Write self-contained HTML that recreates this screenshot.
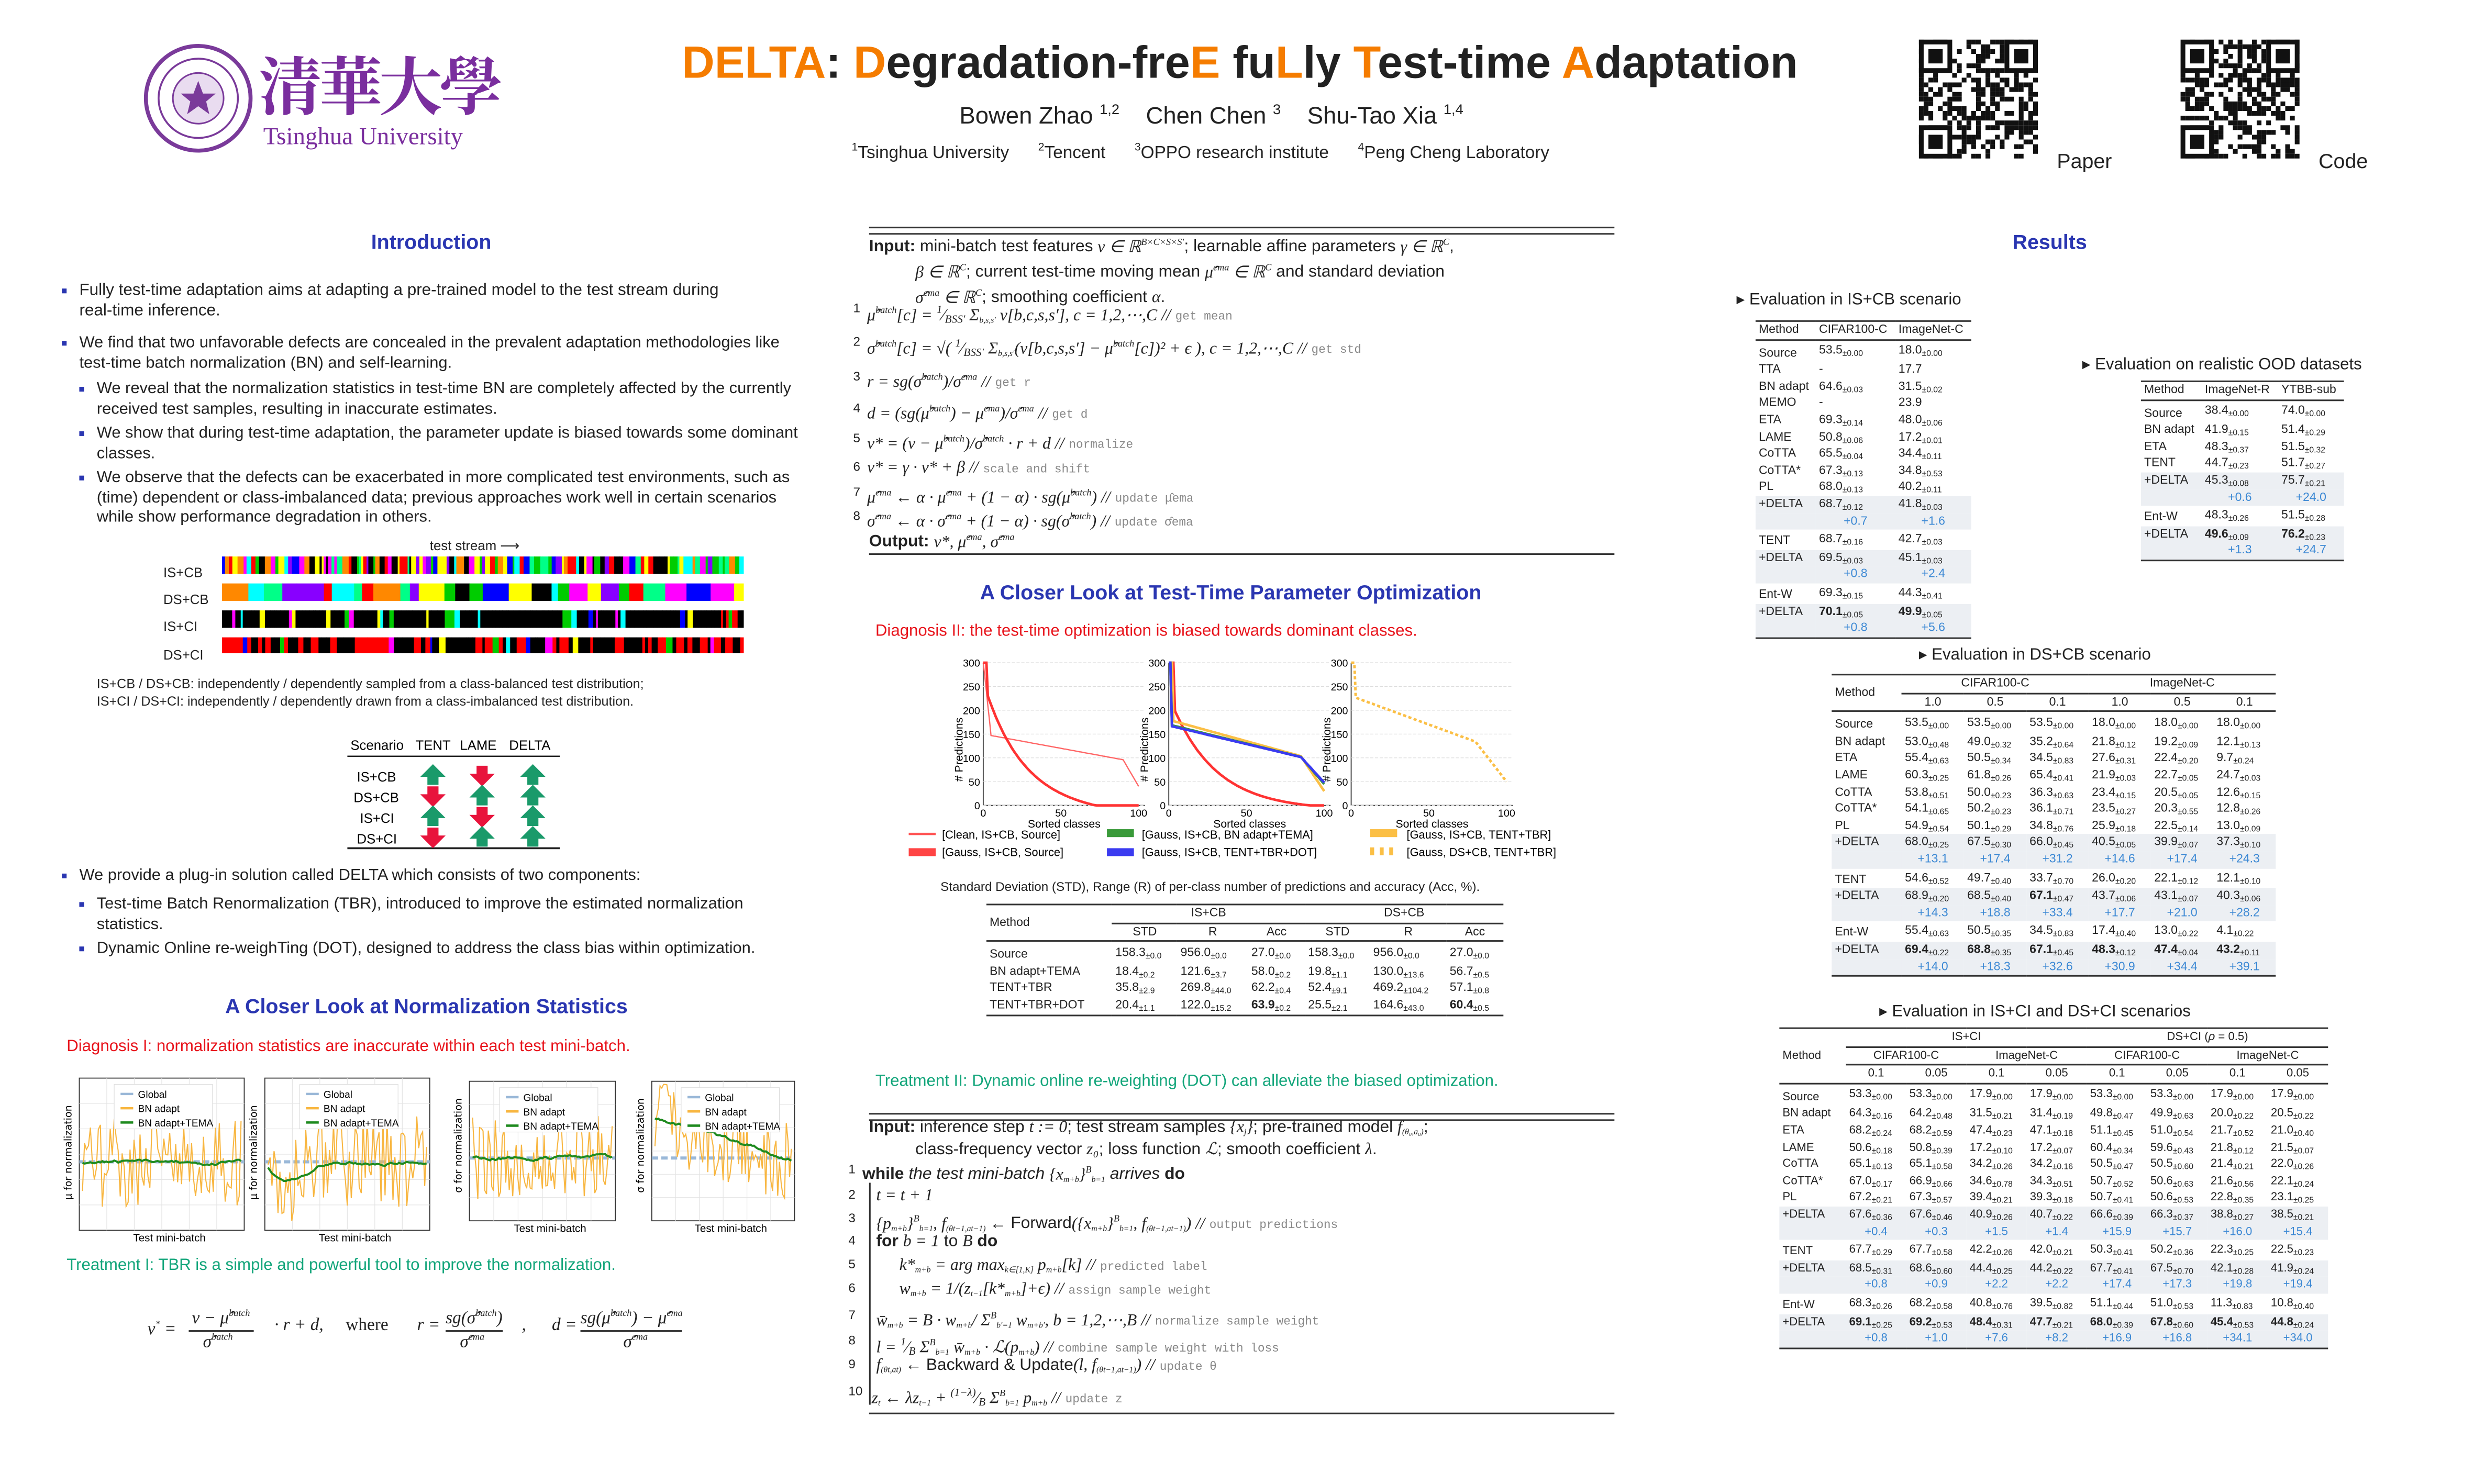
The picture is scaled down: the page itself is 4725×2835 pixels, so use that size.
<!DOCTYPE html>
<html><head><meta charset="utf-8">
<style>
html,body{margin:0;padding:0;background:#fff;}
body{width:4725px;height:2835px;overflow:hidden;}
#p{position:absolute;left:0;top:0;width:1560px;height:936px;transform:scale(3.0288);transform-origin:0 0;font-family:"Liberation Sans","DejaVu Sans",sans-serif;color:#222;}
.a{position:absolute;white-space:nowrap;}
.h{color:#2a36b1;font-weight:bold;font-size:13px;}
.o{color:#f57c00;}
.b{font-size:10.2px;line-height:12.5px;white-space:normal;}
.blt{position:absolute;left:-11px;top:4px;width:3px;height:3px;background:#2a36b1;}
table{border-collapse:collapse;font-size:7.6px;position:absolute;}
td,th{padding:0 2px;font-weight:normal;text-align:left;line-height:10.6px;white-space:nowrap;}
sub{font-size:5.2px;vertical-align:-1.5px;line-height:0;}
.g td{background:#eceff3;}
.up td{color:#3b88d4;text-align:center;}
.tt{border-top:1.2px solid #333;}
.tb{border-bottom:1.2px solid #333;}
.m{font-family:"Liberation Serif",serif;font-style:italic;}
.c{font-family:"Liberation Mono",monospace;color:#888;font-size:7.5px;font-style:normal;}
.al{font-size:10.5px;}
.ln{position:absolute;font-size:8px;}
</style></head><body><div id="p">

<!-- header -->
<svg class="a" style="left:90px;top:27px" width="70" height="70"><circle cx="35" cy="35" r="33" fill="none" stroke="#7a3a9a" stroke-width="2.5"/><circle cx="35" cy="35" r="25" fill="none" stroke="#7a3a9a" stroke-width="1.2"/><circle cx="35" cy="35" r="16" fill="#e9dcf0" stroke="#7a3a9a"/><polygon points="35,24 38,32 46,32 40,37 42,45 35,40 28,45 30,37 24,32 32,32" fill="#7a3a9a"/></svg>
<div class="a" style="left:163px;top:24px;font-size:40px;color:#7a2e9e;font-family:'Noto Serif CJK SC','Noto Sans CJK SC',serif;letter-spacing:-2px;font-weight:bold">清華大學</div>
<div class="a" style="left:166px;top:78px;font-size:15.5px;color:#7a2e9e;font-family:'Liberation Serif',serif">Tsinghua University</div>
<div class="a" style="left:430px;top:24px;font-size:28.5px;font-weight:bold;color:#222"><span class="o">DELTA</span>: <span class="o">D</span>egradation-fre<span class="o">E</span> fu<span class="o">L</span>ly <span class="o">T</span>est-time <span class="o">A</span>daptation</div>
<div class="a" style="left:605px;top:64px;font-size:15px">Bowen Zhao <sup style="font-size:9px">1,2</sup>&nbsp;&nbsp;&nbsp; Chen Chen <sup style="font-size:9px">3</sup>&nbsp;&nbsp;&nbsp; Shu-Tao Xia <sup style="font-size:9px">1,4</sup></div>
<div class="a" style="left:537px;top:90px;font-size:11px"><sup style="font-size:7px">1</sup>Tsinghua University&nbsp;&nbsp;&nbsp;&nbsp;&nbsp; <sup style="font-size:7px">2</sup>Tencent&nbsp;&nbsp;&nbsp;&nbsp;&nbsp; <sup style="font-size:7px">3</sup>OPPO research institute&nbsp;&nbsp;&nbsp;&nbsp;&nbsp; <sup style="font-size:7px">4</sup>Peng Cheng Laboratory</div>
<svg id="qr1" class="a" style="left:1209px;top:24px" width="78" height="76"></svg>
<svg id="qr2" class="a" style="left:1374px;top:24px" width="78" height="76"></svg>
<div class="a" style="left:1297px;top:94px;font-size:13px">Paper</div>
<div class="a" style="left:1462px;top:94px;font-size:13px">Code</div>

<!-- LEFT -->
<div class="a h" style="left:234px;top:145px">Introduction</div>
<div class="a b" style="left:50px;top:178px;width:425px;font-size:10.4px"><span class="blt"></span>Fully test-time adaptation aims at adapting a pre-trained model to the test stream during real-time inference.</div>
<div class="a b" style="left:50px;top:211px;width:450px"><span class="blt"></span>We find that two unfavorable defects are concealed in the prevalent adaptation methodologies like test-time batch normalization (BN) and self-learning.</div>
<div class="a b" style="left:61px;top:240px;width:445px"><span class="blt"></span>We reveal that the normalization statistics in test-time BN are completely affected by the currently received test samples, resulting in inaccurate estimates.</div>
<div class="a b" style="left:61px;top:268px;width:445px"><span class="blt"></span>We show that during test-time adaptation, the parameter update is biased towards some dominant classes.</div>
<div class="a b" style="left:61px;top:296px;width:445px"><span class="blt"></span>We observe that the defects can be exacerbated in more complicated test environments, such as (time) dependent or class-imbalanced data; previous approaches work well in certain scenarios while show performance degradation in others.</div>
<div class="a" style="left:271px;top:339px;font-size:8.5px">test stream ⟶</div>
<div class="a" style="left:103px;top:353px;font-size:8.5px;line-height:17.2px">IS+CB<br>DS+CB<br>IS+CI<br>DS+CI</div>
<svg id="bars" class="a" style="left:140px;top:350px" width="329" height="62"></svg>
<div class="a" style="left:61px;top:426px;font-size:8.3px;line-height:11px">IS+CB / DS+CB: independently / dependently sampled from a class-balanced test distribution;<br>IS+CI / DS+CI: independently / dependently drawn from a class-imbalanced test distribution.</div>
<svg class="a" style="left:219px;top:457px" width="134" height="80" font-size="8.5" font-family="Liberation Sans">
<text x="2" y="16">Scenario</text><text x="43" y="16">TENT</text><text x="71" y="16">LAME</text><text x="102" y="16">DELTA</text>
<line x1="0" y1="20" x2="134" y2="20" stroke="#222" stroke-width="0.8"/><line x1="0" y1="78" x2="134" y2="78" stroke="#222" stroke-width="1.2"/>
<text x="6" y="36">IS+CB</text><text x="4" y="49">DS+CB</text><text x="8" y="62">IS+CI</text><text x="6" y="75">DS+CI</text>
<g id="arr"></g></svg>
<div class="a b" style="left:50px;top:547px;width:460px"><span class="blt"></span>We provide a plug-in solution called DELTA which consists of two components:</div>
<div class="a b" style="left:61px;top:565px;width:450px"><span class="blt"></span>Test-time Batch Renormalization (TBR), introduced to improve the estimated normalization statistics.</div>
<div class="a b" style="left:61px;top:593px;width:450px"><span class="blt"></span>Dynamic Online re-weighTing (DOT), designed to address the class bias within optimization.</div>
<div class="a h" style="left:142px;top:627px">A Closer Look at Normalization Statistics</div>
<div class="a" style="left:42px;top:655px;font-size:10.3px;color:#e8141c">Diagnosis I: normalization statistics are inaccurate within each test mini-batch.</div>
<svg id="np" class="a" style="left:40px;top:674px" width="470" height="110"></svg>
<div class="a" style="left:42px;top:793px;font-size:10.3px;color:#12a57a">Treatment I: TBR is a simple and powerful tool to improve the normalization.</div>
<div class="a m" style="left:93px;top:820px;font-size:11px;line-height:14px">
<span style="position:absolute;left:0;top:9px">v<sup style="font-size:6px">*</sup> =</span>
<span style="position:absolute;left:26px;top:2px;border-bottom:0.8px solid #222;padding:0 2px">v − μ̂<sup style="font-size:6px">batch</sup></span>
<span style="position:absolute;left:35px;top:17px">σ̂<sup style="font-size:6px">batch</sup></span>
<span style="position:absolute;left:80px;top:9px">· r + d,</span>
<span style="position:absolute;left:125px;top:9px;font-style:normal">where</span>
<span style="position:absolute;left:170px;top:9px">r =</span>
<span style="position:absolute;left:188px;top:2px;border-bottom:0.8px solid #222">sg(σ̂<sup style="font-size:6px">batch</sup>)</span>
<span style="position:absolute;left:197px;top:17px">σ̂<sup style="font-size:6px">ema</sup></span>
<span style="position:absolute;left:236px;top:9px">,</span>
<span style="position:absolute;left:255px;top:9px">d =</span>
<span style="position:absolute;left:273px;top:2px;border-bottom:0.8px solid #222">sg(μ̂<sup style="font-size:6px">batch</sup>) − μ̂<sup style="font-size:6px">ema</sup></span>
<span style="position:absolute;left:300px;top:17px">σ̂<sup style="font-size:6px">ema</sup></span>
</div>

<!-- MIDDLE -->
<div class="a" style="left:548px;top:143px;width:470px;border-top:1px solid #333;height:3px;border-bottom:0.8px solid #333"></div>
<div class="a al" style="left:548px;top:147px;line-height:13.7px"><b>Input:</b> mini-batch test features <span class="m">v ∈ ℝ<sup style="font-size:6px">B×C×S×S′</sup></span>; learnable affine parameters <span class="m">γ ∈ ℝ<sup style="font-size:6px">C</sup></span>,<br>&nbsp;&nbsp;&nbsp;&nbsp;&nbsp;&nbsp;&nbsp;&nbsp;&nbsp;&nbsp;<span class="m">β ∈ ℝ<sup style="font-size:6px">C</sup></span>; current test-time moving mean <span class="m">μ̂<sup style="font-size:6px">ema</sup> ∈ ℝ<sup style="font-size:6px">C</sup></span> and standard deviation<br>&nbsp;&nbsp;&nbsp;&nbsp;&nbsp;&nbsp;&nbsp;&nbsp;&nbsp;&nbsp;<span class="m">σ̂<sup style="font-size:6px">ema</sup> ∈ ℝ<sup style="font-size:6px">C</sup></span>; smoothing coefficient <span class="m">α</span>.</div>
<div class="a al" style="left:538px;top:190px;line-height:10px">
<div style="position:absolute;top:0"><span class="ln">1</span>&nbsp;&nbsp;&nbsp;<span class="m">μ̂<sup style="font-size:6px">batch</sup>[c] = <sup style="font-size:7px">1</sup>⁄<sub style="font-size:7px">BSS′</sub> Σ<sub>b,s,s′</sub> v[b,c,s,s′], c = 1,2,⋯,C //</span> <span class="c">get mean</span></div>
<div style="position:absolute;top:21px"><span class="ln">2</span>&nbsp;&nbsp;&nbsp;<span class="m">σ̂<sup style="font-size:6px">batch</sup>[c] = √( <sup style="font-size:7px">1</sup>⁄<sub style="font-size:7px">BSS′</sub> Σ<sub>b,s,s′</sub>(v[b,c,s,s′] − μ̂<sup style="font-size:6px">batch</sup>[c])² + ϵ ), c = 1,2,⋯,C //</span> <span class="c">get std</span></div>
<div style="position:absolute;top:43px"><span class="ln">3</span>&nbsp;&nbsp;&nbsp;<span class="m">r = sg(σ̂<sup style="font-size:6px">batch</sup>)/σ̂<sup style="font-size:6px">ema</sup> //</span> <span class="c">get r</span></div>
<div style="position:absolute;top:63px"><span class="ln">4</span>&nbsp;&nbsp;&nbsp;<span class="m">d = (sg(μ̂<sup style="font-size:6px">batch</sup>) − μ̂<sup style="font-size:6px">ema</sup>)/σ̂<sup style="font-size:6px">ema</sup> //</span> <span class="c">get d</span></div>
<div style="position:absolute;top:82px"><span class="ln">5</span>&nbsp;&nbsp;&nbsp;<span class="m">v* = (v − μ̂<sup style="font-size:6px">batch</sup>)/σ̂<sup style="font-size:6px">batch</sup> · r + d //</span> <span class="c">normalize</span></div>
<div style="position:absolute;top:100px"><span class="ln">6</span>&nbsp;&nbsp;&nbsp;<span class="m">v* = γ · v* + β //</span> <span class="c">scale and shift</span></div>
<div style="position:absolute;top:116px"><span class="ln">7</span>&nbsp;&nbsp;&nbsp;<span class="m">μ̂<sup style="font-size:6px">ema</sup> ← α · μ̂<sup style="font-size:6px">ema</sup> + (1 − α) · sg(μ̂<sup style="font-size:6px">batch</sup>) //</span> <span class="c">update μ̂ema</span></div>
<div style="position:absolute;top:131px"><span class="ln">8</span>&nbsp;&nbsp;&nbsp;<span class="m">σ̂<sup style="font-size:6px">ema</sup> ← α · σ̂<sup style="font-size:6px">ema</sup> + (1 − α) · sg(σ̂<sup style="font-size:6px">batch</sup>) //</span> <span class="c">update σ̂ema</span></div>
<div style="position:absolute;top:144px;left:10px"><b>Output:</b> <span class="m">v*, μ̂<sup style="font-size:6px">ema</sup>, σ̂<sup style="font-size:6px">ema</sup></span></div>
</div>
<div class="a" style="left:548px;top:349px;width:470px;border-top:0.8px solid #333"></div>
<div class="a h" style="left:618px;top:366px">A Closer Look at Test-Time Parameter Optimization</div>
<div class="a" style="left:552px;top:393px;font-size:10.3px;color:#e8141c">Diagnosis II: the test-time optimization is biased towards dominant classes.</div>
<svg id="pp" class="a" style="left:600px;top:410px" width="365" height="112" font-family="Liberation Sans"></svg>
<svg class="a" style="left:570px;top:521px" width="440" height="24" font-size="7.2" font-family="Liberation Sans">
<line x1="3" y1="5" x2="20" y2="5" stroke="#f55" stroke-width="1.5"/><text x="24" y="8">[Clean, IS+CB, Source]</text>
<rect x="3" y="14" width="17" height="5" fill="#f44"/><text x="24" y="19">[Gauss, IS+CB, Source]</text>
<rect x="128" y="2" width="17" height="5" fill="#3a9a3a"/><text x="150" y="8">[Gauss, IS+CB, BN adapt+TEMA]</text>
<rect x="128" y="14" width="17" height="5" fill="#3b3bf0"/><text x="150" y="19">[Gauss, IS+CB, TENT+TBR+DOT]</text>
<rect x="294" y="2" width="17" height="5" fill="#fbbf45"/><text x="317" y="8">[Gauss, IS+CB, TENT+TBR]</text>
<line x1="294" y1="16" x2="311" y2="16" stroke="#fbbf45" stroke-width="5" stroke-dasharray="2.5,3.5"/><text x="317" y="19">[Gauss, DS+CB, TENT+TBR]</text></svg>
<div class="a" style="left:593px;top:555px;font-size:8px">Standard Deviation (STD), Range (R) of per-class number of predictions and accuracy (Acc, %).</div>
<table style="left:622px;top:570px;width:326px" class="tt">
<tr><td rowspan="2" style="vertical-align:middle">Method</td><td colspan="3" style="text-align:center;border-bottom:0.6px solid #333">IS+CB</td><td colspan="3" style="text-align:center;border-bottom:0.6px solid #333">DS+CB</td></tr>
<tr class="tb"><td style="text-align:center">STD</td><td style="text-align:center">R</td><td style="text-align:center">Acc</td><td style="text-align:center">STD</td><td style="text-align:center">R</td><td style="text-align:center">Acc</td></tr>
<tr><td style="padding-top:3px">Source</td><td>158.3<sub>±0.0</sub></td><td>956.0<sub>±0.0</sub></td><td>27.0<sub>±0.0</sub></td><td>158.3<sub>±0.0</sub></td><td>956.0<sub>±0.0</sub></td><td>27.0<sub>±0.0</sub></td></tr>
<tr><td>BN adapt+TEMA</td><td>18.4<sub>±0.2</sub></td><td>121.6<sub>±3.7</sub></td><td>58.0<sub>±0.2</sub></td><td>19.8<sub>±1.1</sub></td><td>130.0<sub>±13.6</sub></td><td>56.7<sub>±0.5</sub></td></tr>
<tr><td>TENT+TBR</td><td>35.8<sub>±2.9</sub></td><td>269.8<sub>±44.0</sub></td><td>62.2<sub>±0.4</sub></td><td>52.4<sub>±9.1</sub></td><td>469.2<sub>±104.2</sub></td><td>57.1<sub>±0.8</sub></td></tr>
<tr class="tb"><td>TENT+TBR+DOT</td><td>20.4<sub>±1.1</sub></td><td>122.0<sub>±15.2</sub></td><td><b>63.9</b><sub>±0.2</sub></td><td>25.5<sub>±2.1</sub></td><td>164.6<sub>±43.0</sub></td><td><b>60.4</b><sub>±0.5</sub></td></tr>
</table>
<div class="a" style="left:552px;top:677px;font-size:10.3px;color:#12a57a">Treatment II: Dynamic online re-weighting (DOT) can alleviate the biased optimization.</div>
<div class="a" style="left:548px;top:702px;width:470px;border-top:1px solid #333;height:3px;border-bottom:0.8px solid #333"></div>
<div class="a al" style="left:548px;top:705px;line-height:13.5px"><b>Input:</b> inference step <span class="m">t := 0</span>; test stream samples <span class="m">{x<sub>j</sub>}</span>; pre-trained model <span class="m">f<sub>(θ₀,a₀)</sub></span>;<br>&nbsp;&nbsp;&nbsp;&nbsp;&nbsp;&nbsp;&nbsp;&nbsp;&nbsp;&nbsp;class-frequency vector <span class="m">z₀</span>; loss function <span class="m">ℒ</span>; smooth coefficient <span class="m">λ</span>.</div>
<div class="a al" style="left:535px;top:733px;line-height:10px">
<div style="position:absolute;top:0"><span class="ln">1</span>&nbsp;&nbsp;&nbsp;<b>while</b> <i>the test mini-batch</i> <span class="m">{x<sub>m+b</sub>}<sup style="font-size:6px">B</sup><sub>b=1</sub></span> <i>arrives</i> <b>do</b></div>
<div style="position:absolute;top:16px"><span class="ln">2</span>&nbsp;&nbsp;&nbsp;&nbsp;&nbsp;&nbsp;<span class="m">t = t + 1</span></div>
<div style="position:absolute;top:31px"><span class="ln">3</span>&nbsp;&nbsp;&nbsp;&nbsp;&nbsp;&nbsp;<span class="m">{p<sub>m+b</sub>}<sup style="font-size:6px">B</sup><sub>b=1</sub>, f<sub>(θt−1,at−1)</sub> ← </span>Forward<span class="m">({x<sub>m+b</sub>}<sup style="font-size:6px">B</sup><sub>b=1</sub>, f<sub>(θt−1,at−1)</sub>) //</span> <span class="c">output predictions</span></div>
<div style="position:absolute;top:45px"><span class="ln">4</span>&nbsp;&nbsp;&nbsp;&nbsp;&nbsp;&nbsp;<b>for</b> <span class="m">b = 1</span> to <span class="m">B</span> <b>do</b></div>
<div style="position:absolute;top:60px"><span class="ln">5</span>&nbsp;&nbsp;&nbsp;&nbsp;&nbsp;&nbsp;&nbsp;&nbsp;&nbsp;&nbsp;&nbsp;<span class="m">k*<sub>m+b</sub> = arg max<sub>k∈[1,K]</sub> p<sub>m+b</sub>[k] //</span> <span class="c">predicted label</span></div>
<div style="position:absolute;top:75px"><span class="ln">6</span>&nbsp;&nbsp;&nbsp;&nbsp;&nbsp;&nbsp;&nbsp;&nbsp;&nbsp;&nbsp;&nbsp;<span class="m">w<sub>m+b</sub> = 1/(z<sub>t−1</sub>[k*<sub>m+b</sub>]+ϵ) //</span> <span class="c">assign sample weight</span></div>
<div style="position:absolute;top:92px"><span class="ln">7</span>&nbsp;&nbsp;&nbsp;&nbsp;&nbsp;&nbsp;<span class="m">w̄<sub>m+b</sub> = B · w<sub>m+b</sub>/ Σ<sup style="font-size:6px">B</sup><sub>b′=1</sub> w<sub>m+b′</sub>, b = 1,2,⋯,B //</span> <span class="c">normalize sample weight</span></div>
<div style="position:absolute;top:108px"><span class="ln">8</span>&nbsp;&nbsp;&nbsp;&nbsp;&nbsp;&nbsp;<span class="m">l = <sup style="font-size:7px">1</sup>⁄<sub style="font-size:7px">B</sub> Σ<sup style="font-size:6px">B</sup><sub>b=1</sub> w̄<sub>m+b</sub> · ℒ(p<sub>m+b</sub>) //</span> <span class="c">combine sample weight with loss</span></div>
<div style="position:absolute;top:123px"><span class="ln">9</span>&nbsp;&nbsp;&nbsp;&nbsp;&nbsp;&nbsp;<span class="m">f<sub>(θt,at)</sub> ← </span>Backward &amp; Update<span class="m">(l, f<sub>(θt−1,at−1)</sub>) //</span> <span class="c">update θ</span></div>
<div style="position:absolute;top:140px"><span class="ln">10</span>&nbsp;&nbsp;&nbsp;&nbsp;&nbsp;<span class="m">z<sub>t</sub> ← λz<sub>t−1</sub> + <sup style="font-size:7px">(1−λ)</sup>⁄<sub style="font-size:7px">B</sub> Σ<sup style="font-size:6px">B</sup><sub>b=1</sub> p<sub>m+b</sub> //</span> <span class="c">update z</span></div>
</div>
<div class="a" style="left:548px;top:891px;width:470px;border-top:0.8px solid #333"></div>
<div class="a" style="left:548px;top:746px;height:140px;border-left:0.6px solid #333"></div>

<!-- RIGHT -->
<div class="a h" style="left:1269px;top:145px">Results</div>
<div class="a" style="left:1095px;top:183px;font-size:10.3px">▸ Evaluation in IS+CB scenario</div>
<table style="left:1107px;top:202px;width:136px" class="tt">
<tr class="tb"><td>Method</td><td>CIFAR100-C</td><td>ImageNet-C</td></tr>
<tr><td style="padding-top:3px">Source</td><td>53.5<sub>±0.00</sub></td><td>18.0<sub>±0.00</sub></td></tr>
<tr><td>TTA</td><td>-</td><td>17.7</td></tr>
<tr><td>BN adapt</td><td>64.6<sub>±0.03</sub></td><td>31.5<sub>±0.02</sub></td></tr>
<tr><td>MEMO</td><td>-</td><td>23.9</td></tr>
<tr><td>ETA</td><td>69.3<sub>±0.14</sub></td><td>48.0<sub>±0.06</sub></td></tr>
<tr><td>LAME</td><td>50.8<sub>±0.06</sub></td><td>17.2<sub>±0.01</sub></td></tr>
<tr><td>CoTTA</td><td>65.5<sub>±0.04</sub></td><td>34.4<sub>±0.11</sub></td></tr>
<tr><td>CoTTA*</td><td>67.3<sub>±0.13</sub></td><td>34.8<sub>±0.53</sub></td></tr>
<tr><td>PL</td><td>68.0<sub>±0.13</sub></td><td>40.2<sub>±0.11</sub></td></tr>
<tr class="g"><td>+DELTA</td><td>68.7<sub>±0.12</sub></td><td>41.8<sub>±0.03</sub></td></tr>
<tr class="g up"><td></td><td>+0.7</td><td>+1.6</td></tr>
<tr><td style="padding-top:2px">TENT</td><td>68.7<sub>±0.16</sub></td><td>42.7<sub>±0.03</sub></td></tr>
<tr class="g"><td>+DELTA</td><td>69.5<sub>±0.03</sub></td><td>45.1<sub>±0.03</sub></td></tr>
<tr class="g up"><td></td><td>+0.8</td><td>+2.4</td></tr>
<tr><td style="padding-top:2px">Ent-W</td><td>69.3<sub>±0.15</sub></td><td>44.3<sub>±0.41</sub></td></tr>
<tr class="g"><td>+DELTA</td><td><b>70.1</b><sub>±0.05</sub></td><td><b>49.9</b><sub>±0.05</sub></td></tr>
<tr class="g up tb"><td></td><td>+0.8</td><td>+5.6</td></tr>
</table>

<div class="a" style="left:1313px;top:224px;font-size:10.3px">▸ Evaluation on realistic OOD datasets</div>
<table style="left:1350px;top:240px;width:128px" class="tt">
<tr class="tb"><td>Method</td><td>ImageNet-R</td><td>YTBB-sub</td></tr>
<tr><td style="padding-top:3px">Source</td><td>38.4<sub>±0.00</sub></td><td>74.0<sub>±0.00</sub></td></tr>
<tr><td>BN adapt</td><td>41.9<sub>±0.15</sub></td><td>51.4<sub>±0.29</sub></td></tr>
<tr><td>ETA</td><td>48.3<sub>±0.37</sub></td><td>51.5<sub>±0.32</sub></td></tr>
<tr><td>TENT</td><td>44.7<sub>±0.23</sub></td><td>51.7<sub>±0.27</sub></td></tr>
<tr class="g"><td>+DELTA</td><td>45.3<sub>±0.08</sub></td><td>75.7<sub>±0.21</sub></td></tr>
<tr class="g up"><td></td><td>+0.6</td><td>+24.0</td></tr>
<tr><td style="padding-top:2px">Ent-W</td><td>48.3<sub>±0.26</sub></td><td>51.5<sub>±0.28</sub></td></tr>
<tr class="g"><td>+DELTA</td><td><b>49.6</b><sub>±0.09</sub></td><td><b>76.2</b><sub>±0.23</sub></td></tr>
<tr class="g up tb"><td></td><td>+1.3</td><td>+24.7</td></tr>
</table>

<div class="a" style="left:1210px;top:407px;font-size:10.3px">▸ Evaluation in DS+CB scenario</div>
<table style="left:1155px;top:425px;width:280px" class="tt">
<tr><td rowspan="2" style="vertical-align:middle">Method</td><td colspan="3" style="text-align:center;border-bottom:0.6px solid #333">CIFAR100-C</td><td colspan="3" style="text-align:center;border-bottom:0.6px solid #333">ImageNet-C</td></tr>
<tr class="tb"><td style="text-align:center">1.0</td><td style="text-align:center">0.5</td><td style="text-align:center">0.1</td><td style="text-align:center">1.0</td><td style="text-align:center">0.5</td><td style="text-align:center">0.1</td></tr>
<tr><td style="padding-top:3px">Source</td><td>53.5<sub>±0.00</sub></td><td>53.5<sub>±0.00</sub></td><td>53.5<sub>±0.00</sub></td><td>18.0<sub>±0.00</sub></td><td>18.0<sub>±0.00</sub></td><td>18.0<sub>±0.00</sub></td></tr>
<tr><td>BN adapt</td><td>53.0<sub>±0.48</sub></td><td>49.0<sub>±0.32</sub></td><td>35.2<sub>±0.64</sub></td><td>21.8<sub>±0.12</sub></td><td>19.2<sub>±0.09</sub></td><td>12.1<sub>±0.13</sub></td></tr>
<tr><td>ETA</td><td>55.4<sub>±0.63</sub></td><td>50.5<sub>±0.34</sub></td><td>34.5<sub>±0.83</sub></td><td>27.6<sub>±0.31</sub></td><td>22.4<sub>±0.20</sub></td><td>9.7<sub>±0.24</sub></td></tr>
<tr><td>LAME</td><td>60.3<sub>±0.25</sub></td><td>61.8<sub>±0.26</sub></td><td>65.4<sub>±0.41</sub></td><td>21.9<sub>±0.03</sub></td><td>22.7<sub>±0.05</sub></td><td>24.7<sub>±0.03</sub></td></tr>
<tr><td>CoTTA</td><td>53.8<sub>±0.51</sub></td><td>50.0<sub>±0.23</sub></td><td>36.3<sub>±0.63</sub></td><td>23.4<sub>±0.15</sub></td><td>20.5<sub>±0.05</sub></td><td>12.6<sub>±0.15</sub></td></tr>
<tr><td>CoTTA*</td><td>54.1<sub>±0.65</sub></td><td>50.2<sub>±0.23</sub></td><td>36.1<sub>±0.71</sub></td><td>23.5<sub>±0.27</sub></td><td>20.3<sub>±0.55</sub></td><td>12.8<sub>±0.26</sub></td></tr>
<tr><td>PL</td><td>54.9<sub>±0.54</sub></td><td>50.1<sub>±0.29</sub></td><td>34.8<sub>±0.76</sub></td><td>25.9<sub>±0.18</sub></td><td>22.5<sub>±0.14</sub></td><td>13.0<sub>±0.09</sub></td></tr>
<tr class="g"><td>+DELTA</td><td>68.0<sub>±0.25</sub></td><td>67.5<sub>±0.30</sub></td><td>66.0<sub>±0.45</sub></td><td>40.5<sub>±0.05</sub></td><td>39.9<sub>±0.07</sub></td><td>37.3<sub>±0.10</sub></td></tr>
<tr class="g up"><td></td><td>+13.1</td><td>+17.4</td><td>+31.2</td><td>+14.6</td><td>+17.4</td><td>+24.3</td></tr>
<tr><td style="padding-top:2px">TENT</td><td>54.6<sub>±0.52</sub></td><td>49.7<sub>±0.40</sub></td><td>33.7<sub>±0.70</sub></td><td>26.0<sub>±0.20</sub></td><td>22.1<sub>±0.12</sub></td><td>12.1<sub>±0.10</sub></td></tr>
<tr class="g"><td>+DELTA</td><td>68.9<sub>±0.20</sub></td><td>68.5<sub>±0.40</sub></td><td><b>67.1</b><sub>±0.47</sub></td><td>43.7<sub>±0.06</sub></td><td>43.1<sub>±0.07</sub></td><td>40.3<sub>±0.06</sub></td></tr>
<tr class="g up"><td></td><td>+14.3</td><td>+18.8</td><td>+33.4</td><td>+17.7</td><td>+21.0</td><td>+28.2</td></tr>
<tr><td style="padding-top:2px">Ent-W</td><td>55.4<sub>±0.63</sub></td><td>50.5<sub>±0.35</sub></td><td>34.5<sub>±0.83</sub></td><td>17.4<sub>±0.40</sub></td><td>13.0<sub>±0.22</sub></td><td>4.1<sub>±0.22</sub></td></tr>
<tr class="g"><td>+DELTA</td><td><b>69.4</b><sub>±0.22</sub></td><td><b>68.8</b><sub>±0.35</sub></td><td><b>67.1</b><sub>±0.45</sub></td><td><b>48.3</b><sub>±0.12</sub></td><td><b>47.4</b><sub>±0.04</sub></td><td><b>43.2</b><sub>±0.11</sub></td></tr>
<tr class="g up tb"><td></td><td>+14.0</td><td>+18.3</td><td>+32.6</td><td>+30.9</td><td>+34.4</td><td>+39.1</td></tr>
</table>

<div class="a" style="left:1185px;top:632px;font-size:10.3px">▸ Evaluation in IS+CI and DS+CI scenarios</div>
<table style="left:1122px;top:648px;width:346px;font-size:7.3px" class="tt">
<tr><td rowspan="3" style="vertical-align:middle">Method</td><td colspan="4" style="text-align:center;border-bottom:0.6px solid #333">IS+CI</td><td colspan="4" style="text-align:center;border-bottom:0.6px solid #333">DS+CI (<i>ρ</i> = 0.5)</td></tr>
<tr><td colspan="2" style="text-align:center;border-bottom:0.6px solid #333">CIFAR100-C</td><td colspan="2" style="text-align:center;border-bottom:0.6px solid #333">ImageNet-C</td><td colspan="2" style="text-align:center;border-bottom:0.6px solid #333">CIFAR100-C</td><td colspan="2" style="text-align:center;border-bottom:0.6px solid #333">ImageNet-C</td></tr>
<tr class="tb"><td style="text-align:center">0.1</td><td style="text-align:center">0.05</td><td style="text-align:center">0.1</td><td style="text-align:center">0.05</td><td style="text-align:center">0.1</td><td style="text-align:center">0.05</td><td style="text-align:center">0.1</td><td style="text-align:center">0.05</td></tr>
<tr><td style="padding-top:3px">Source</td><td>53.3<sub>±0.00</sub></td><td>53.3<sub>±0.00</sub></td><td>17.9<sub>±0.00</sub></td><td>17.9<sub>±0.00</sub></td><td>53.3<sub>±0.00</sub></td><td>53.3<sub>±0.00</sub></td><td>17.9<sub>±0.00</sub></td><td>17.9<sub>±0.00</sub></td></tr>
<tr><td>BN adapt</td><td>64.3<sub>±0.16</sub></td><td>64.2<sub>±0.48</sub></td><td>31.5<sub>±0.21</sub></td><td>31.4<sub>±0.19</sub></td><td>49.8<sub>±0.47</sub></td><td>49.9<sub>±0.63</sub></td><td>20.0<sub>±0.22</sub></td><td>20.5<sub>±0.22</sub></td></tr>
<tr><td>ETA</td><td>68.2<sub>±0.24</sub></td><td>68.2<sub>±0.59</sub></td><td>47.4<sub>±0.23</sub></td><td>47.1<sub>±0.18</sub></td><td>51.1<sub>±0.45</sub></td><td>51.0<sub>±0.54</sub></td><td>21.7<sub>±0.52</sub></td><td>21.0<sub>±0.40</sub></td></tr>
<tr><td>LAME</td><td>50.6<sub>±0.18</sub></td><td>50.8<sub>±0.39</sub></td><td>17.2<sub>±0.10</sub></td><td>17.2<sub>±0.07</sub></td><td>60.4<sub>±0.34</sub></td><td>59.6<sub>±0.43</sub></td><td>21.8<sub>±0.12</sub></td><td>21.5<sub>±0.07</sub></td></tr>
<tr><td>CoTTA</td><td>65.1<sub>±0.13</sub></td><td>65.1<sub>±0.58</sub></td><td>34.2<sub>±0.26</sub></td><td>34.2<sub>±0.16</sub></td><td>50.5<sub>±0.47</sub></td><td>50.5<sub>±0.60</sub></td><td>21.4<sub>±0.21</sub></td><td>22.0<sub>±0.26</sub></td></tr>
<tr><td>CoTTA*</td><td>67.0<sub>±0.17</sub></td><td>66.9<sub>±0.66</sub></td><td>34.6<sub>±0.78</sub></td><td>34.3<sub>±0.51</sub></td><td>50.7<sub>±0.52</sub></td><td>50.6<sub>±0.63</sub></td><td>21.6<sub>±0.56</sub></td><td>22.1<sub>±0.24</sub></td></tr>
<tr><td>PL</td><td>67.2<sub>±0.21</sub></td><td>67.3<sub>±0.57</sub></td><td>39.4<sub>±0.21</sub></td><td>39.3<sub>±0.18</sub></td><td>50.7<sub>±0.41</sub></td><td>50.6<sub>±0.53</sub></td><td>22.8<sub>±0.35</sub></td><td>23.1<sub>±0.25</sub></td></tr>
<tr class="g"><td>+DELTA</td><td>67.6<sub>±0.36</sub></td><td>67.6<sub>±0.46</sub></td><td>40.9<sub>±0.26</sub></td><td>40.7<sub>±0.22</sub></td><td>66.6<sub>±0.39</sub></td><td>66.3<sub>±0.37</sub></td><td>38.8<sub>±0.27</sub></td><td>38.5<sub>±0.21</sub></td></tr>
<tr class="g up"><td></td><td>+0.4</td><td>+0.3</td><td>+1.5</td><td>+1.4</td><td>+15.9</td><td>+15.7</td><td>+16.0</td><td>+15.4</td></tr>
<tr><td style="padding-top:2px">TENT</td><td>67.7<sub>±0.29</sub></td><td>67.7<sub>±0.58</sub></td><td>42.2<sub>±0.26</sub></td><td>42.0<sub>±0.21</sub></td><td>50.3<sub>±0.41</sub></td><td>50.2<sub>±0.36</sub></td><td>22.3<sub>±0.25</sub></td><td>22.5<sub>±0.23</sub></td></tr>
<tr class="g"><td>+DELTA</td><td>68.5<sub>±0.31</sub></td><td>68.6<sub>±0.60</sub></td><td>44.4<sub>±0.25</sub></td><td>44.2<sub>±0.22</sub></td><td>67.7<sub>±0.41</sub></td><td>67.5<sub>±0.70</sub></td><td>42.1<sub>±0.28</sub></td><td>41.9<sub>±0.24</sub></td></tr>
<tr class="g up"><td></td><td>+0.8</td><td>+0.9</td><td>+2.2</td><td>+2.2</td><td>+17.4</td><td>+17.3</td><td>+19.8</td><td>+19.4</td></tr>
<tr><td style="padding-top:2px">Ent-W</td><td>68.3<sub>±0.26</sub></td><td>68.2<sub>±0.58</sub></td><td>40.8<sub>±0.76</sub></td><td>39.5<sub>±0.82</sub></td><td>51.1<sub>±0.44</sub></td><td>51.0<sub>±0.53</sub></td><td>11.3<sub>±0.83</sub></td><td>10.8<sub>±0.40</sub></td></tr>
<tr class="g"><td>+DELTA</td><td><b>69.1</b><sub>±0.25</sub></td><td><b>69.2</b><sub>±0.53</sub></td><td><b>48.4</b><sub>±0.31</sub></td><td><b>47.7</b><sub>±0.21</sub></td><td><b>68.0</b><sub>±0.39</sub></td><td><b>67.8</b><sub>±0.60</sub></td><td><b>45.4</b><sub>±0.53</sub></td><td><b>44.8</b><sub>±0.24</sub></td></tr>
<tr class="g up tb"><td></td><td>+0.8</td><td>+1.0</td><td>+7.6</td><td>+8.2</td><td>+16.9</td><td>+16.8</td><td>+34.1</td><td>+34.0</td></tr>
</table>

</div>
<script>
var s=12345;function R(){s=(s*16807)%2147483647;return s/2147483647;}
var NS="http://www.w3.org/2000/svg";
function E(p,t,a,txt){var e=document.createElementNS(NS,t);for(var k in a)e.setAttribute(k,a[k]);if(txt!==undefined)e.textContent=txt;p.appendChild(e);return e;}
["qr1","qr2"].forEach(function(id){var q=document.getElementById(id);var n=25,c=3;for(var i=0;i<n;i++)for(var j=0;j<n;j++){if(R()<0.5)E(q,"rect",{x:j*c+1,y:i*c+1,width:c,height:c,fill:"#111"});}
[[0,0],[18,0],[0,18]].forEach(function(p){E(q,"rect",{x:p[0]*c+1,y:p[1]*c+1,width:21,height:21,fill:"#fff"});E(q,"rect",{x:p[0]*c+2.5,y:p[1]*c+2.5,width:18,height:18,fill:"none",stroke:"#111","stroke-width":3});E(q,"rect",{x:p[0]*c+7,y:p[1]*c+7,width:9,height:9,fill:"#111"});});});
var b=document.getElementById("bars");var cols=["#ff0000","#00cc00","#0000ff","#ffff00","#ff00ff","#00ffff","#000000","#ff8800","#8800ff","#00ff88"];
for(var r=0;r<4;r++){var y=[1,18,35,52][r];var x=0;while(x<329){var w=1+R()*3,c;
if(r==0)c=cols[Math.floor(R()*10)];
else if(r==1){w=4+R()*14;c=cols[Math.floor(R()*10)];}
else if(r==2){c=R()<0.78?"#000":cols[Math.floor(R()*6)];w=1+R()*2.5;}
else {c=R()<0.5?"#000":(R()<0.75?"#ff0000":cols[Math.floor(R()*6)]);w=1+R()*4;}
E(b,"rect",{x:x,y:y,width:w+0.3,height:11,fill:c});x+=w;}}
var ar=document.getElementById("arr");var up="#1a9a6a",dn="#e8143c";
var pat=[[1,0,1],[0,1,1],[1,0,1],[0,1,1]];
for(var i=0;i<4;i++)for(var j=0;j<3;j++){var cx=[54,85,117][j],cy=[33,46,59,72][i]-1;
if(pat[i][j])E(ar,"path",{d:"M"+cx+" "+(cy-7)+"l8 8h-4.5v5h-7v-5h-4.5z",fill:up});else E(ar,"path",{d:"M"+cx+" "+(cy+7)+"l8 -8h-4.5v-5h-7v5h-4.5z",fill:dn});}
var np=document.getElementById("np");
var boxes=[[10,6,104,96,0],[127,6,104,96,1],[256,8,92,88,2],[371,8,90,88,3]];
boxes.forEach(function(bx){var X=bx[0],Y=bx[1],W=bx[2],H=bx[3];
E(np,"rect",{x:X,y:Y,width:W,height:H,fill:"#fff",stroke:"#333","stroke-width":0.6});
for(var k=1;k<6;k++){E(np,"line",{x1:X,y1:Y+H*k/6,x2:X+W,y2:Y+H*k/6,stroke:"#e4e4e4","stroke-width":0.4});E(np,"line",{x1:X+W*k/6,y1:Y,x2:X+W*k/6,y2:Y+H,stroke:"#e4e4e4","stroke-width":0.4});}
var mid=Y+H*0.55;var o="",g="",gv=mid+(bx[4]==3?-25:0);
for(var t=0;t<=80;t++){var xx=X+2+t*(W-4)/80;var base=mid+(bx[4]==3?-25+t*0.35:0)+(bx[4]==1&&t<25?20-t*0.8:0);var v=base+(R()-0.5)*H*0.6;if(v<Y+2)v=Y+2;if(v>Y+H-2)v=Y+H-2;o+=(t?"L":"M")+xx.toFixed(1)+" "+v.toFixed(1);gv=gv*0.85+(base+(R()-0.5)*10)*0.15;g+=(t?"L":"M")+xx.toFixed(1)+" "+gv.toFixed(1);}
E(np,"line",{x1:X,y1:mid,x2:X+W,y2:mid,stroke:"#9ab8d8","stroke-width":2,"stroke-dasharray":"4,2"});
E(np,"path",{d:o,fill:"none",stroke:"#f8b640","stroke-width":0.7});
E(np,"path",{d:g,fill:"none",stroke:"#1e8a1e","stroke-width":1.3});
var lx=X+W*0.25,ly=Y+4;E(np,"rect",{x:lx-4,y:ly,width:62,height:28,fill:"#fff",stroke:"#ddd","stroke-width":0.4});
[["Global","#9ab8d8"],["BN adapt","#f8b640"],["BN adapt+TEMA","#1e8a1e"]].forEach(function(l,i){E(np,"line",{x1:lx,y1:ly+6+i*9,x2:lx+8,y2:ly+6+i*9,stroke:l[1],"stroke-width":1.5});E(np,"text",{x:lx+11,y:ly+8.5+i*9,"font-size":6.3,"font-family":"Liberation Sans"},l[0]);});
E(np,"text",{x:X+W/2-18,y:Y+H+7,"font-size":6.8,"font-family":"Liberation Sans"},"Test mini-batch");
E(np,"text",{x:0,y:0,"font-size":6.3,"font-family":"DejaVu Sans",transform:"translate("+(X-5)+","+(Y+H*0.8)+") rotate(-90)"},(bx[4]<2?"μ":"σ")+" for normalization");
});
var pp=document.getElementById("pp");
[[20,0],[137,1],[252,2]].forEach(function(q){var X=q[0],Y=8,W=102,H=90;
E(pp,"line",{x1:X,y1:Y,x2:X,y2:Y+H,stroke:"#333","stroke-width":0.6});E(pp,"line",{x1:X,y1:Y+H,x2:X+W,y2:Y+H,stroke:"#333","stroke-width":0.6});
[0,50,100,150,200,250,300].forEach(function(v){var yy=Y+H-v/300*H;E(pp,"line",{x1:X,y1:yy,x2:X+W,y2:yy,stroke:"#ddd","stroke-width":0.4,"stroke-dasharray":"2,1"});E(pp,"text",{x:X-2,y:yy+2.5,"font-size":6.5,"text-anchor":"end"},v);});
[0,50,100].forEach(function(v){var xx=X+v/100*(W-4);E(pp,"text",{x:xx,y:Y+H+7,"font-size":6.5,"text-anchor":"middle"},v);});
E(pp,"text",{x:X+W/2,y:Y+H+14,"font-size":7,"text-anchor":"middle"},"Sorted classes");
E(pp,"text",{x:0,y:0,"font-size":7,transform:"translate("+(X-13)+","+(Y+H-15)+") rotate(-90)"},"# Predictions");
function cur(f,col,w,dash){var d="";for(var i=0;i<=100;i++){var v=f(i/100);var xx=X+i/100*(W-4),yy=Y+H-Math.min(v,300)/300*H;d+=(i?"L":"M")+xx.toFixed(1)+" "+yy.toFixed(1);}var a={d:d,fill:"none",stroke:col,"stroke-width":w};if(dash)a["stroke-dasharray"]=dash;E(pp,"path",a);}
if(q[1]==0){cur(function(t){return t<0.05?300-t*3000:150-t*60+(t>0.9?-(t-0.9)*500:0);},"#f66",0.8);cur(function(t){return t<0.03?300:Math.max(0,260*Math.exp(-4*t)-20*t);},"#f33",1.6);}
if(q[1]==1){cur(function(t){return t<0.04?300:Math.max(0,240*Math.exp(-3.5*t)-10);},"#f33",1.6);cur(function(t){return t<0.03?300:180-t*90-(t>0.85?(t-0.85)*400:0);},"#fbbf45",1.6);cur(function(t){return t<0.02?300:170-t*80-(t>0.85?(t-0.85)*300:0);},"#3a9a3a",1.6);cur(function(t){return t<0.02?300:168-t*78-(t>0.85?(t-0.85)*280:0);},"#3b3bf0",1.6);}
if(q[1]==2){cur(function(t){return t<0.03?300:230-t*120-(t>0.8?(t-0.8)*300:0);},"#fbbf45",1.6,"2,1.5");}
});
</script>
</body></html>
